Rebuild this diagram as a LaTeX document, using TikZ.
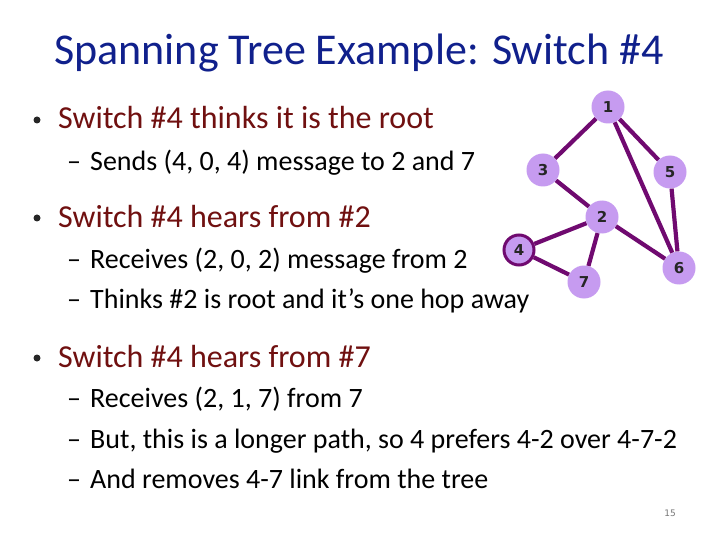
\documentclass[tikz,border=0pt]{standalone}
\usepackage{fontspec}
\setmainfont{Carlito}
\newfontfamily\nodefont{DejaVu Sans}
\definecolor{titleblue}{RGB}{16,32,140}
\definecolor{bulletred}{RGB}{112,16,16}
\definecolor{edgepurple}{RGB}{112,10,112}
\definecolor{nodefill}{RGB}{198,155,240}
\definecolor{pagegray}{RGB}{120,120,120}
\tikzset{
  sw/.style={circle,fill=nodefill,minimum size=33pt,inner sep=0pt,font=\nodefont\bfseries\fontsize{15}{15}\selectfont,text=black!85},
  swroot/.style={sw,draw=edgepurple,line width=3pt,minimum size=30pt},
  link/.style={draw=edgepurple,line width=4.2pt},
  titletext/.style={anchor=base,font=\fontsize{44}{52}\selectfont,text=titleblue,inner sep=0pt},
  lvone/.style={anchor=base west,font=\fontsize{32}{38}\selectfont,text=bulletred,inner sep=0pt},
  lvtwo/.style={anchor=base west,font=\fontsize{28}{34}\selectfont,text=black,inner sep=0pt},
  bul/.style={circle,fill=black!85,inner sep=0pt,minimum size=7pt},
  dsh/.style={anchor=base west,font=\fontsize{28}{34}\selectfont,text=black,inner sep=0pt},
}
\begin{document}
\begin{tikzpicture}[x=1pt,y=-1pt]
\useasboundingbox (0,0) rectangle (720,540);
\fill[white] (0,0) rectangle (720,540);
% title
\node[titletext] (title) at (359,65) {Spanning Tree Example: Switch \#4};
% bullets
\node[bul] (b1) at (37,120) {};
\node[lvone] (t1) at (58,129) {Switch \#4 thinks it is the root};
\node[dsh] (d2) at (67,171) {–};
\node[lvtwo] (t2) at (90,171) {Sends (4, 0, 4) message to 2 and 7};
\node[bul] (b3) at (37,218) {};
\node[lvone] (t3) at (58,227) {Switch \#4 hears from \#2};
\node[dsh] (d4) at (67,268) {–};
\node[lvtwo] (t4) at (90,268) {Receives (2, 0, 2) message from 2};
\node[dsh] (d5) at (67,308) {–};
\node[lvtwo] (t5) at (90,308) {Thinks \#2 is root and it’s one hop away};
\node[bul] (b6) at (37,358) {};
\node[lvone] (t6) at (58,367) {Switch \#4 hears from \#7};
\node[dsh] (d7) at (67,407) {–};
\node[lvtwo] (t7) at (90,407) {Receives (2, 1, 7) from 7};
\node[dsh] (d8) at (67,448) {–};
\node[lvtwo] (t8) at (90,448) {But, this is a longer path, so 4 prefers 4-2 over 4-7-2};
\node[dsh] (d9) at (67,488) {–};
\node[lvtwo] (t9) at (90,488) {And removes 4-7 link from the tree};
\node[font=\nodefont\fontsize{9}{9}\selectfont,text=pagegray] (pg) at (670,513) {15};
% graph
\node[sw] (n1) at (608,107) {1};
\node[sw] (n3) at (543,170) {3};
\node[sw] (n5) at (670,172) {5};
\node[sw] (n2) at (602,217) {2};
\node[swroot] (n4) at (519,250) {4};
\node[sw] (n7) at (584,282) {7};
\node[sw] (n6) at (679,268) {6};
\path[link] (n1) -- (n3);
\path[link] (n1) -- (n5);
\path[link] (n1) -- (n6);
\path[link] (n5) -- (n6);
\path[link] (n3) -- (n2);
\path[link] (n2) -- (n4);
\path[link] (n2) -- (n7);
\path[link] (n2) -- (n6);
\path[link] (n4) -- (n7);
\end{tikzpicture}
\end{document}
